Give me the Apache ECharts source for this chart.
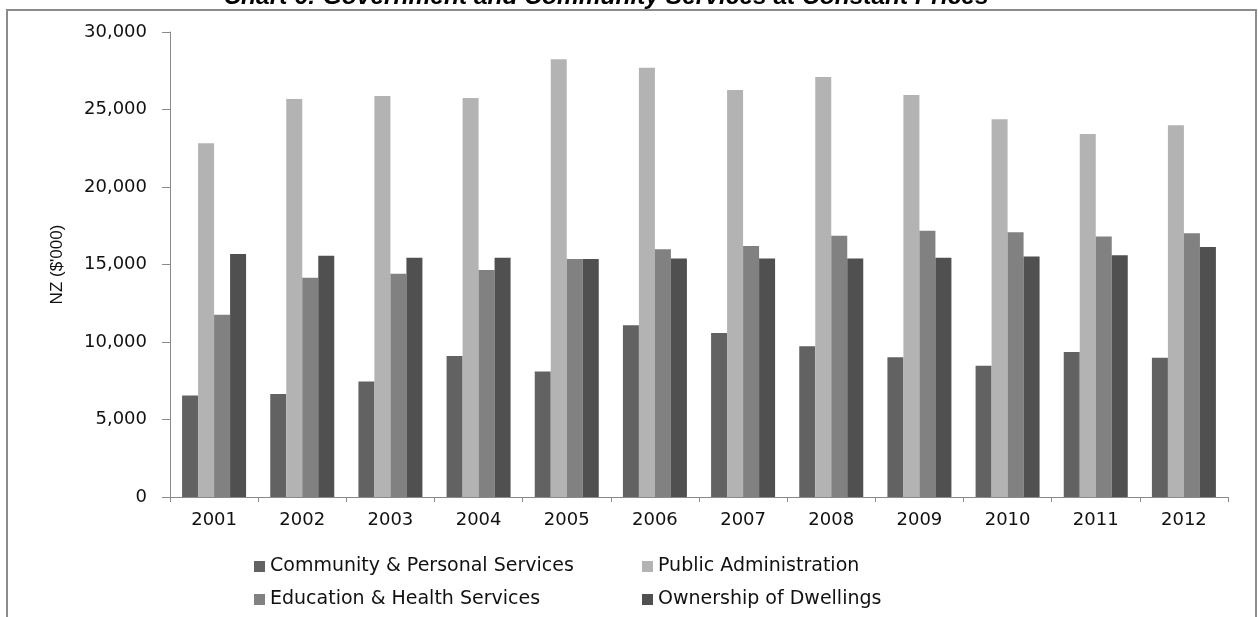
<!DOCTYPE html>
<html>
<head>
<meta charset="utf-8">
<script src="https://cdn.jsdelivr.net/npm/echarts@6/dist/echarts.min.js"></script>
<style>
html,body{margin:0;padding:0;background:#fff;}
#chart{width:1258px;height:617px;}
</style>
</head>
<body>
<div id="chart"></div>
<script>
const titleText = "Chart 6: Government and Community Services at Constant Prices";
const years = ["2001","2002","2003","2004","2005","2006","2007","2008","2009","2010","2011","2012"];
const seriesNames = ["Community & Personal Services","Public Administration","Education & Health Services","Ownership of Dwellings"];
const community = [6550, 6650, 7450, 9100, 8100, 11080, 10580, 9720, 9010, 8470, 9350, 8990];
const publicAdmin = [22820, 25680, 25870, 25740, 28240, 27700, 26260, 27100, 25940, 24370, 23420, 23980];
const education = [11760, 14150, 14410, 14650, 15360, 15980, 16190, 16860, 17180, 17080, 16800, 17010];
const dwellings = [15680, 15570, 15440, 15440, 15360, 15380, 15380, 15380, 15440, 15510, 15590, 16130];
const colors = ["#626262", "#b3b3b3", "#818181", "#505050"];

const chart = echarts.init(document.getElementById('chart'), null, {renderer:'canvas'});
const values = [community, publicAdmin, education, dwellings];
const legendText = {color:'#111', fontFamily:'DejaVu Sans', fontSize:19};
chart.setOption({
  animation:false,
  backgroundColor:'#fff',
  color: colors,
  graphic:[
    {type:'rect', shape:{x:7, y:10, width:1249, height:700}, style:{fill:'none', stroke:'#8c8c8c', lineWidth:2}, silent:true},
    {type:'text', x:606, y:-15, style:{text:titleText, fill:'#000', font:'italic bold 24.5px "Liberation Sans"', align:'center', verticalAlign:'top'}, silent:true}
  ],
  grid:{left:170, right:30, top:32, bottom:120, containLabel:false},
  legend:[
    {data:[seriesNames[0], seriesNames[2]], orient:'vertical', left:249, top:552, itemWidth:11, itemHeight:11, itemGap:14, icon:'rect', textStyle:legendText, selectedMode:false},
    {data:[seriesNames[1], seriesNames[3]], orient:'vertical', left:637, top:552, itemWidth:11, itemHeight:11, itemGap:14, icon:'rect', textStyle:legendText, selectedMode:false}
  ],
  xAxis:{
    type:'category', data:years,
    axisLine:{lineStyle:{color:'#8a8a8a', width:1}},
    axisTick:{show:true, length:5, lineStyle:{color:'#8a8a8a'}},
    axisLabel:{color:'#111', fontFamily:'DejaVu Sans', fontSize:18, margin:14},
    splitLine:{show:false}
  },
  yAxis:{
    type:'value', min:0, max:30000, interval:5000,
    name:"NZ ($'000)", nameLocation:'middle', nameGap:104, nameRotate:90,
    nameTextStyle:{color:'#111', fontFamily:'Liberation Sans', fontSize:17},
    axisLine:{show:true, lineStyle:{color:'#8a8a8a', width:1}},
    axisTick:{show:true, length:8, lineStyle:{color:'#8a8a8a'}},
    axisLabel:{color:'#111', fontFamily:'DejaVu Sans', fontSize:18, margin:23,
      formatter:(v)=>v.toLocaleString('en-US')},
    splitLine:{show:false}
  },
  series: seriesNames.map((n,i)=>({
    name:n, type:'bar', data:values[i], barWidth:16, barGap:'0%',
    itemStyle:{color:colors[i]}
  }))
});
</script>
</body>
</html>
